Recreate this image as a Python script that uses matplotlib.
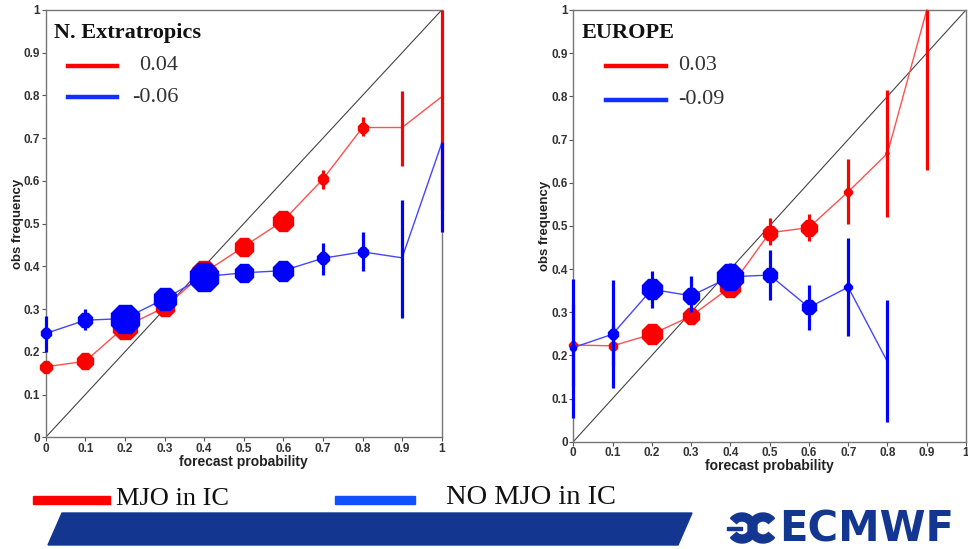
import numpy as np
import matplotlib
matplotlib.use('Agg')
import matplotlib.pyplot as plt
from matplotlib.patches import Polygon, Rectangle, Wedge

# forecast probability bins
prob = [0, 0.1, 0.2, 0.3, 0.4, 0.5, 0.6, 0.7, 0.8, 0.9, 1.0]
tick_labels = ['0', '0.1', '0.2', '0.3', '0.4', '0.5', '0.6', '0.7', '0.8', '0.9', '1']

# N. Extratropics
nh_mjo = [0.165, 0.178, 0.259, 0.304, 0.385, 0.446, 0.507, 0.604, 0.725, 0.725, 0.797]
nh_nomjo = [0.243, 0.274, 0.278, 0.324, 0.376, 0.385, 0.390, 0.419, 0.434, 0.420, 0.688]
nh_mjo_lo = [None, None, None, None, None, None, None, 0.580, 0.705, 0.635, 0.532]
nh_mjo_hi = [None, None, None, None, None, None, None, 0.625, 0.750, 0.810, 1.000]
nh_nomjo_lo = [0.200, 0.250, None, None, None, None, None, 0.380, 0.390, 0.280, 0.480]
nh_nomjo_hi = [0.285, 0.300, None, None, None, None, None, 0.455, 0.480, 0.555, 0.690]
nh_mjo_msize = [11, 15, 24, 18, 24, 17, 20, 10, 9, 0, 0]
nh_nomjo_msize = [9, 13, 28, 22, 28, 17, 19, 11, 10, 0, 0]

# Europe
eu_prob = prob[:10]
eu_mjo = [0.224, 0.222, 0.249, 0.291, 0.358, 0.484, 0.496, 0.579, 0.668, 1.0]
eu_prob_b = prob[:9]
eu_nomjo = [0.218, 0.249, 0.353, 0.338, 0.382, 0.386, 0.311, 0.358, 0.185]
eu_mjo_lo = [0.130, 0.175, None, None, None, 0.455, 0.465, 0.505, 0.520, 0.630]
eu_mjo_hi = [0.320, 0.270, None, None, None, 0.518, 0.527, 0.655, 0.815, 1.000]
eu_nomjo_lo = [0.055, 0.125, 0.310, 0.300, 0.360, 0.328, 0.258, 0.245, 0.045]
eu_nomjo_hi = [0.377, 0.375, 0.395, 0.383, 0.415, 0.445, 0.363, 0.472, 0.328]
eu_mjo_msize = [7, 8, 20, 16, 20, 14, 15, 7, 3, 0]
eu_nomjo_msize = [6, 9, 19, 16, 25, 14, 14, 7, 0]

W, H = 968, 549
fig = plt.figure(figsize=(W / 100, H / 100), dpi=100)

def fx(x):
    return x / W

def fy(y):
    return 1 - y / H

SANS = ['Liberation Sans', 'DejaVu Sans']
SERIF = ['Liberation Serif', 'DejaVu Serif']


def draw_panel(rect, title, px_prob, px_b, red, blue, rlo, rhi, blo, bhi, rms, bms):
    ax = fig.add_axes(rect)
    ax.plot([0, 1], [0, 1], color='#444444', lw=0.8, zorder=1)
    ax.plot(px_prob, red, color='#ff5050', lw=1.0, zorder=2, clip_on=False)
    for x, lo, hi in zip(px_prob, rlo, rhi):
        if lo is not None:
            ax.vlines(x, lo, hi, color='#ff0000', lw=2.3, zorder=3, clip_on=False)
    for x, y, s in zip(px_prob, red, rms):
        if s > 0:
            ax.plot(x, y, marker='8', ms=s * 0.8, color='#ff0000', mec='#ff0000',
                    zorder=4, clip_on=False)
    ax.plot(px_b, blue, color='#4545ff', lw=1.0, zorder=5, clip_on=False)
    for x, lo, hi in zip(px_b, blo, bhi):
        if lo is not None:
            ax.vlines(x, lo, hi, color='#0000ff', lw=2.3, zorder=6, clip_on=False)
    for x, y, s in zip(px_b, blue, bms):
        if s > 0:
            ax.plot(x, y, marker='8', ms=s * 0.8, color='#0000ff', mec='#0000ff',
                    zorder=7, clip_on=False)
    ax.set_xlim(0, 1)
    ax.set_ylim(0, 1)
    ax.set_xticks(prob)
    ax.set_yticks(prob)
    ax.set_xticklabels(tick_labels)
    ax.set_yticklabels(tick_labels)
    for sp in ax.spines.values():
        sp.set_color('#777777')
        sp.set_linewidth(1.0)
    ax.tick_params(length=3, width=0.8, color='#555555', pad=1, labelsize=8.5,
                   labelcolor='#333333')
    for lab in ax.get_xticklabels() + ax.get_yticklabels():
        lab.set_fontweight('bold')
        lab.set_family(SANS)
    ax.set_xlabel('forecast probability', fontsize=10, fontweight='bold', family=SANS,
                  color='#222222', labelpad=0)
    ax.set_ylabel('obs frequency', fontsize=9.5, fontweight='bold', family=SANS,
                  color='#222222', labelpad=0)
    ax.text(0.02, 0.97, title, transform=ax.transAxes, fontsize=16, fontweight='bold',
            family=SERIF, va='top', ha='left', color='#111111')
    return ax


ax1 = draw_panel([fx(45.7), fy(437.3), fx(441.7 - 45.7), (437.3 - 10) / H],
                 'N. Extratropics', prob, prob, nh_mjo, nh_nomjo,
                 nh_mjo_lo, nh_mjo_hi, nh_nomjo_lo, nh_nomjo_hi,
                 nh_mjo_msize, nh_nomjo_msize)
ax2 = draw_panel([fx(573.3), fy(441.7), fx(966 - 573.3), (441.7 - 10) / H],
                 'EUROPE', eu_prob, eu_prob_b, eu_mjo, eu_nomjo,
                 eu_mjo_lo, eu_mjo_hi, eu_nomjo_lo, eu_nomjo_hi,
                 eu_mjo_msize, eu_nomjo_msize)

# skill scores drawn as small legends inside the panels
def score(x0, x1, y, color, label, xt):
    fig.add_artist(plt.Line2D([fx(x0), fx(x1)], [fy(y), fy(y)], color=color, lw=3.2,
                              transform=fig.transFigure))
    fig.text(fx(xt), fy(y), label, fontsize=16, family=SERIF, va='center', ha='left',
             color='#333333')

score(68, 117, 66, '#ff0000', '0.04', 139)
score(68, 117, 97, '#1030ff', '-0.06', 132)
score(606, 666, 66, '#ff0000', '0.03', 678)
score(606, 666, 100, '#1030ff', '-0.09', 678)

# bottom legend
fig.add_artist(Rectangle((fx(33), fy(504)), fx(110 - 33), 8 / H, color='#ff0000',
                         transform=fig.transFigure))
fig.text(fx(116), fy(499), 'MJO in IC', fontsize=19, family=SERIF, va='center',
         ha='left', color='#111111')
fig.add_artist(Rectangle((fx(335), fy(504)), fx(415 - 335), 8 / H, color='#1050ff',
                         transform=fig.transFigure))
fig.text(fx(446), fy(497), 'NO MJO in IC', fontsize=20.5, family=SERIF, va='center',
         ha='left', color='#111111')

# banner
banner = [(fx(48), fy(545)), (fx(62), fy(513)), (fx(692), fy(513)), (fx(678), fy(545))]
fig.add_artist(Polygon(banner, closed=True, color='#133691', transform=fig.transFigure))

# ECMWF logo
logo_col = '#133691'
fig.text(fx(779), fy(529), 'ECMWF', fontsize=30, fontweight='bold', family='DejaVu Sans',
         va='center', ha='left', color=logo_col)
lax = fig.add_axes([fx(725), fy(545), fx(55), 34 / H])
lax.set_xlim(0, 55)
lax.set_ylim(0, 34)
lax.set_aspect('equal')
lax.axis('off')
lax.add_patch(Wedge((17, 17), 15, -140, 140, width=8, color=logo_col))
lax.add_patch(Wedge((38, 17), 15, 40, 320, width=8, color=logo_col))
lax.add_patch(Rectangle((2, 15.5), 15, 3, color=logo_col))

fig.savefig('out.png', dpi=100)
